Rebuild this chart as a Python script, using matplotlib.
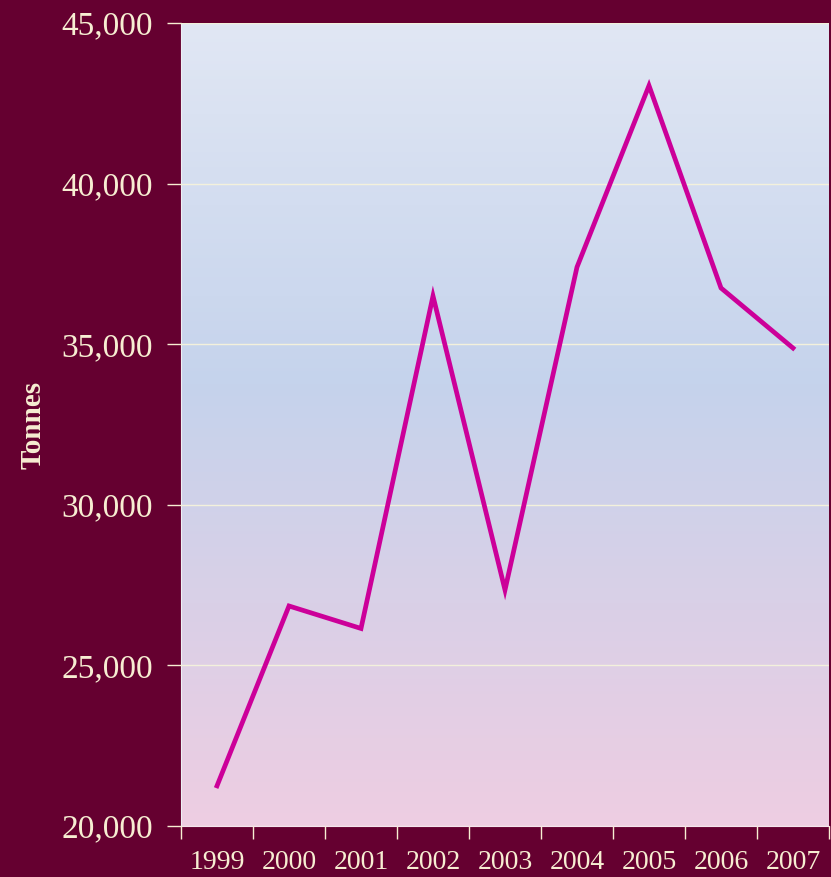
import numpy as np
import matplotlib.pyplot as plt
from matplotlib.colors import LinearSegmentedColormap
from matplotlib.ticker import FuncFormatter

# data
years = ['1999', '2000', '2001', '2002', '2003', '2004', '2005', '2006', '2007']
tonnes = [21250, 26850, 26150, 36500, 27350, 37400, 43050, 36750, 34880]

bg = '#650030'
txt = '#f7eed2'

plt.rcParams['font.family'] = ['Liberation Serif', 'DejaVu Serif']

fig = plt.figure(figsize=(8.31, 8.77), dpi=100, facecolor=bg)
ax = fig.add_axes([181 / 831, 1 - 826 / 877, 648 / 831, 803 / 877])
ax.set_facecolor(bg)

# vertical gradient background of the plot area
cmap = LinearSegmentedColormap.from_list(
    'bgfill', [(0.0, '#eecde2'), (0.55, '#c5d3ec'), (1.0, '#e1e7f4')])
grad = np.linspace(0, 1, 256).reshape(-1, 1)
ax.imshow(grad, cmap=cmap, aspect='auto', extent=[0, 1, 0, 1],
          origin='lower', transform=ax.transAxes, zorder=0)

x = np.arange(len(years))
ax.plot(x, tonnes, color='#cc0099', linewidth=3.4, zorder=3,
        solid_joinstyle='miter')

ax.set_xlim(-0.5, len(years) - 0.5)
ax.set_ylim(20000, 45000)
ax.set_yticks(range(20000, 45001, 5000))
ax.yaxis.set_major_formatter(FuncFormatter(lambda v, p: f'{int(v):,}'))
ax.set_xticks(x)
ax.set_xticklabels(years)
ax.set_xticks(np.arange(-0.5, len(years)), minor=True)
ax.tick_params(axis='x', which='major', length=0, pad=17, labelsize=20,
               labelcolor=txt)
ax.tick_params(axis='x', which='minor', length=9, color=txt, width=1)
ax.tick_params(axis='y', length=10, color=txt, width=1, labelsize=24,
               labelcolor=txt, pad=10)

ax.grid(axis='y', color='#f3f1dc', linewidth=1, zorder=1)
ax.set_axisbelow(False)
for side in ['top', 'right']:
    ax.spines[side].set_visible(False)
ax.spines['left'].set_color('#eef0f4')
ax.spines['bottom'].set_color('#f5e4ee')

ax.set_ylabel('Tonnes', color=txt, fontsize=21, fontweight='bold')
ax.yaxis.set_label_coords(-134 / 648, 0.5)

fig.savefig('out.png', dpi=100, facecolor=bg)
